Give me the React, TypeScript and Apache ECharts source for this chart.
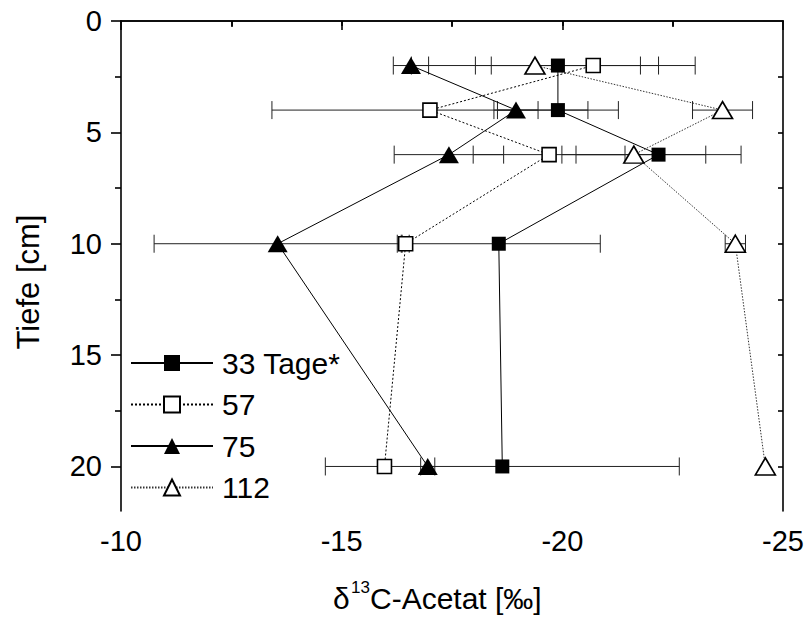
import React, { useEffect, useRef } from 'react';
import * as echarts from 'echarts';

// Depths (cm)
const depths = [2, 4, 6, 10, 20];
// Series names
const seriesNames = ['33 Tage*', '57', '75', '112'];
// δ13C values per series (‰) and half-widths of the error bars
const d33 = [-19.9, -19.9, -22.18, -18.56, -18.64];
const e33 = [1.87, 1.37, 1.87, 2.3, 4.01];
const d57 = [-20.7, -17.0, -19.7, -16.45, -15.97];
const e57 = [2.31, 3.58, 1.72, 0.08, 0];
const d75 = [-16.57, -18.95, -17.43, -13.55, -16.95];
const e75 = [0.4, 0.5, 1.24, 2.8, 0.16];
const d112 = [-19.38, -23.63, -21.62, -23.92, -24.6];
const e112 = [2.8, 0.68, 1.63, 0.23, 0];

// Tick values
const yMajor = [0, 5, 10, 15, 20];
const yMinor = [2.5, 7.5, 12.5, 17.5];
const yMirror = [2.5, 5, 7.5, 10, 12.5, 15, 17.5, 20];
const xMirror = [-22.5, -20, -17.5, -15, -12.5];

const FONT = 'Liberation Sans, Arial, Helvetica, sans-serif';

export default function App() {
  const ref = useRef<HTMLDivElement>(null);

  useEffect(() => {
    if (!ref.current) return;
    const chart = echarts.init(ref.current, null, { renderer: 'svg' });

    const pts = (xs: number[]) => xs.map((x, i) => [x, depths[i]]);
    const errData = (xs: number[], es: number[]) =>
      xs
        .map((x, i) => [x - es[i], x + es[i], depths[i], es[i]])
        .filter((r) => r[3] > 0);

    const allErr = [
      ...errData(d33, e33),
      ...errData(d57, e57),
      ...errData(d75, e75),
      ...errData(d112, e112),
    ];

    const CAP = 9;
    const errSeries: any = {
      type: 'custom',
      name: 'err',
      z: 1,
      xAxisIndex: 0,
      yAxisIndex: 0,
      encode: { x: [0, 1], y: 2 },
      silent: true,
      renderItem: (params: any, api: any) => {
        const lo = api.value(0);
        const hi = api.value(1);
        const y = api.value(2);
        const p1 = api.coord([lo, y]);
        const p2 = api.coord([hi, y]);
        const st = { stroke: '#222', lineWidth: 1 };
        return {
          type: 'group',
          children: [
            { type: 'line', shape: { x1: p1[0], y1: p1[1], x2: p2[0], y2: p2[1] }, style: st },
            { type: 'line', shape: { x1: p1[0], y1: p1[1] - CAP, x2: p1[0], y2: p1[1] + CAP }, style: st },
            { type: 'line', shape: { x1: p2[0], y1: p2[1] - CAP, x2: p2[0], y2: p2[1] + CAP }, style: st },
          ],
        };
      },
      data: allErr,
    };

    const lineSeries = (
      name: string,
      xs: number[],
      symbol: string,
      size: any,
      filled: boolean,
      dashed: any,
      lineColor: string
    ) => ({
      type: 'line',
      name,
      z: 3,
      xAxisIndex: 0,
      yAxisIndex: 0,
      data: pts(xs),
      symbol,
      symbolSize: size,
      showAllSymbol: true,
      silent: true,
      lineStyle: { color: lineColor, width: 1, type: dashed },
      itemStyle: filled
        ? { color: '#000', borderColor: '#000', borderWidth: 0 }
        : { color: '#fff', borderColor: '#000', borderWidth: 1.6 },
      emphasis: { disabled: true },
    });

    const axisLine = { show: true, lineStyle: { color: '#000', width: 1.6 } };

    chart.setOption({
      animation: false,
      backgroundColor: '#fff',
      grid: { left: 121, top: 21, right: 25, bottom: 108, containLabel: false },
      legend: {
        orient: 'vertical',
        left: 130,
        top: 348,
        padding: 0,
        itemWidth: 82,
        itemHeight: 20,
        itemGap: 11.5,
        selectedMode: false,
        data: seriesNames,
        textStyle: {
          fontFamily: FONT,
          fontSize: 30,
          color: '#000',
          lineHeight: 20,
          padding: [0, 0, 0, 4],
        },
      },
      xAxis: [
        {
          type: 'value',
          position: 'bottom',
          min: -25,
          max: -10,
          interval: 5,
          inverse: true,
          axisLine,
          axisTick: { show: true, length: 9, lineStyle: { color: '#000', width: 1.6 } },
          minorTick: { show: true, splitNumber: 2, length: 6, lineStyle: { color: '#000', width: 1.6 } },
          splitLine: { show: false },
          minorSplitLine: { show: false },
          axisLabel: { fontFamily: FONT, fontSize: 29, color: '#000', margin: 15 },
        },
        {
          type: 'value',
          position: 'top',
          min: -25,
          max: -10,
          interval: 5,
          inverse: true,
          axisLine,
          axisTick: {
            show: true,
            inside: true,
            length: 5,
            customValues: xMirror,
            lineStyle: { color: '#000', width: 1.6 },
          },
          splitLine: { show: false },
          axisLabel: { show: false },
        },
      ],
      yAxis: [
        {
          type: 'value',
          position: 'left',
          min: 0,
          max: 22,
          interval: 5,
          inverse: true,
          axisLine,
          axisTick: {
            show: true,
            length: 10,
            customValues: yMajor,
            lineStyle: { color: '#000', width: 1.6 },
          },
          splitLine: { show: false },
          axisLabel: {
            fontFamily: FONT,
            fontSize: 29,
            color: '#000',
            margin: 19,
            customValues: yMajor,
          },
        },
        {
          type: 'value',
          position: 'left',
          min: 0,
          max: 22,
          inverse: true,
          axisLine: { show: false },
          axisTick: {
            show: true,
            length: 6,
            customValues: yMinor,
            lineStyle: { color: '#000', width: 1.6 },
          },
          splitLine: { show: false },
          axisLabel: { show: false },
        },
        {
          type: 'value',
          position: 'right',
          min: 0,
          max: 22,
          inverse: true,
          axisLine,
          axisTick: {
            show: true,
            inside: true,
            length: 5,
            customValues: yMirror,
            lineStyle: { color: '#000', width: 1.6 },
          },
          splitLine: { show: false },
          axisLabel: { show: false },
        },
      ],
      graphic: [
        {
          type: 'text',
          x: 28,
          y: 282,
          rotation: Math.PI / 2,
          style: {
            text: 'Tiefe [cm]',
            font: `31px ${FONT}`,
            fill: '#000',
            align: 'center',
            verticalAlign: 'middle',
          },
        },
        {
          type: 'text',
          x: 333,
          y: 598,
          style: {
            text: 'δ',
            font: `30px ${FONT}`,
            fill: '#000',
            align: 'left',
            verticalAlign: 'middle',
          },
        },
        {
          type: 'text',
          x: 351,
          y: 587,
          style: {
            text: '13',
            font: `17px ${FONT}`,
            fill: '#000',
            align: 'left',
            verticalAlign: 'middle',
          },
        },
        {
          type: 'text',
          x: 370,
          y: 598,
          style: {
            text: 'C-Acetat [‰]',
            font: `30px ${FONT}`,
            fill: '#000',
            align: 'left',
            verticalAlign: 'middle',
          },
        },
      ],
      series: [
        errSeries,
        lineSeries(seriesNames[0], d33, 'rect', 14, true, 'solid', '#000'),
        lineSeries(seriesNames[1], d57, 'rect', 14, false, [2, 2], '#000'),
        lineSeries(seriesNames[2], d75, 'triangle', [20, 17], true, 'solid', '#000'),
        lineSeries(seriesNames[3], d112, 'triangle', [20, 17], false, [1.5, 1.5], '#333'),
      ],
    });

    return () => {
      chart.dispose();
    };
  }, []);

  return (
    <div
      ref={ref}
      style={{ position: 'fixed', left: 0, top: 0, width: 808, height: 619, background: '#fff' }}
    />
  );
}
